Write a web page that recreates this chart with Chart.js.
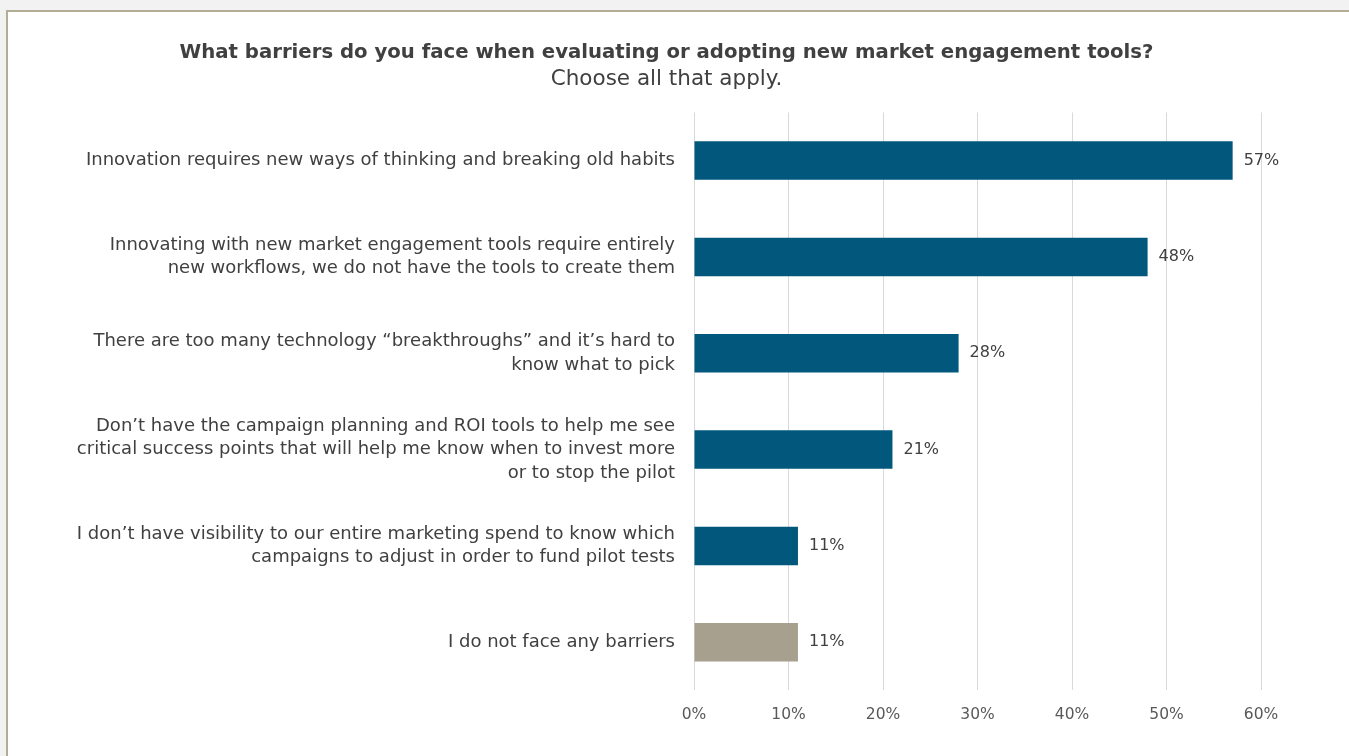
<!DOCTYPE html>
<html>
<head>
<meta charset="utf-8">
<script src="https://cdn.jsdelivr.net/npm/chart.js@4.4.0/dist/chart.umd.min.js"></script>
<style>
  html, body { margin: 0; padding: 0; background: #f2f2f2; }
  #painel {
    position: absolute; left: 6px; top: 10px; width: 1343px; height: 746px;
    background: #fff; border-left: 2px solid #b3ad97; border-top: 2px solid #b3ad97;
    box-sizing: border-box;
  }
  #grafico { display: block; }
</style>
</head>
<body>
<div id="painel"><canvas id="grafico" width="1341" height="744"></canvas></div>
<script>
const categorias = [
  'Innovation requires new ways of thinking and breaking old habits',
  ['Innovating with new market engagement tools require entirely', 'new workflows, we do not have the tools to create them'],
  ['There are too many technology \u201cbreakthroughs\u201d and it\u2019s hard to', 'know what to pick'],
  ['Don\u2019t have the campaign planning and ROI tools to help me see', 'critical success points that will help me know when to invest more', 'or to stop the pilot'],
  ['I don\u2019t have visibility to our entire marketing spend to know which', 'campaigns to adjust in order to fund pilot tests'],
  'I do not face any barriers'
];
const percentuais = [57, 48, 28, 21, 11, 11];
const coresBarras = ['#01587c', '#01587c', '#01587c', '#01587c', '#01587c', '#a8a08e'];
const ticksEixo = [0, 10, 20, 30, 40, 50, 60];

const fonte = '"DejaVu Sans", sans-serif';

// rótulo de valor à direita de cada barra
const rotulosValor = {
  id: 'rotulosValor',
  afterDatasetsDraw(chart) {
    const ctx = chart.ctx;
    const meta = chart.getDatasetMeta(0);
    ctx.save();
    ctx.font = '16px ' + fonte;
    ctx.fillStyle = '#404040';
    ctx.textBaseline = 'middle';
    ctx.textAlign = 'left';
    meta.data.forEach((barra, i) => {
      ctx.fillText(percentuais[i] + '%', barra.x + 11, barra.y);
    });
    ctx.restore();
  }
};

new Chart(document.getElementById('grafico'), {
  type: 'bar',
  data: {
    labels: categorias,
    datasets: [{
      data: percentuais,
      backgroundColor: coresBarras,
      barPercentage: 0.4,
      categoryPercentage: 1
    }]
  },
  options: {
    indexAxis: 'y',
    responsive: false,
    animation: false,
    layout: { padding: { left: 64, right: 88, top: 0, bottom: 17 } },
    plugins: {
      legend: { display: false },
      tooltip: { enabled: false },
      title: {
        display: true,
        text: 'What barriers do you face when evaluating or adopting new market engagement tools?',
        color: '#404040',
        font: { family: fonte, size: 19.7, weight: 'bold' },
        padding: { top: 29, bottom: 2 }
      },
      subtitle: {
        display: true,
        text: 'Choose all that apply.',
        color: '#404040',
        font: { family: fonte, size: 21.5 },
        padding: { top: 0, bottom: 20 }
      }
    },
    scales: {
      x: {
        min: 0,
        max: 60,
        afterBuildTicks(scale) {
          scale.ticks = ticksEixo.map(v => ({ value: v }));
        },
        grid: { color: '#d9d9d9', lineWidth: 1, tickLength: 0, drawTicks: false },
        border: { display: false },
        ticks: {
          color: '#595959',
          font: { family: fonte, size: 15.5 },
          padding: 15,
          callback: v => v + '%'
        }
      },
      y: {
        afterFit(scale) { scale.width = 622; },
        grid: { display: false },
        border: { display: false },
        ticks: {
          color: '#404040',
          font: { family: fonte, size: 18, lineHeight: 1.3 },
          padding: 11
        }
      }
    }
  },
  plugins: [rotulosValor]
});
</script>
</body>
</html>
